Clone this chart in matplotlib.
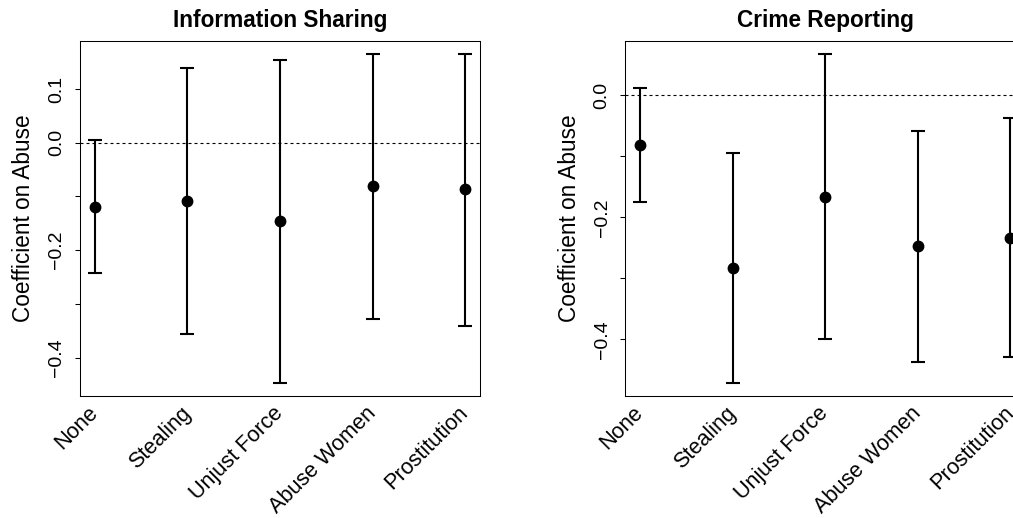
import numpy as np
import matplotlib
matplotlib.use('Agg')
import matplotlib.pyplot as plt

plt.rcParams['font.family'] = ['Liberation Sans', 'DejaVu Sans']

# Categories (x-axis labels)
categories = ['None', 'Stealing', 'Unjust Force', 'Abuse Women', 'Prostitution']

# Information Sharing: point estimates and 95% CI bounds
info_est = [-0.119, -0.108, -0.145, -0.081, -0.087]
info_low = [-0.242, -0.356, -0.447, -0.328, -0.341]
info_high = [0.006, 0.139, 0.155, 0.165, 0.165]

# Crime Reporting: point estimates and 95% CI bounds
crime_est = [-0.082, -0.283, -0.167, -0.247, -0.234]
crime_low = [-0.175, -0.471, -0.399, -0.437, -0.429]
crime_high = [0.012, -0.095, 0.067, -0.058, -0.037]

# y ticks and which ones carry labels
info_ticks = [-0.4, -0.3, -0.2, -0.1, 0.0, 0.1]
info_labels = ['\u22120.4', '', '\u22120.2', '', '0.0', '0.1']
crime_ticks = [-0.4, -0.3, -0.2, -0.1, 0.0]
crime_labels = ['\u22120.4', '', '\u22120.2', '', '0.0']

fig = plt.figure(figsize=(10.13, 5.18), dpi=100)
ax1 = fig.add_axes([80 / 1013, 122 / 518, 400 / 1013, 355 / 518])
ax2 = fig.add_axes([625.3 / 1013, 122 / 518, 400 / 1013, 355 / 518])


def draw_panel(ax, title, est, low, high, ticks, labels):
    x = np.arange(1, len(categories) + 1)
    est = np.array(est)
    yerr = [est - np.array(low), np.array(high) - est]
    # dotted reference line at zero
    ax.axhline(0, color='black', lw=0.8, ls=(0, (2.7, 2.7)), zorder=1)
    ax.errorbar(x, est, yerr=yerr, fmt='o', color='black', ms=7.5,
                elinewidth=1.5, capsize=4.8, capthick=1.5, zorder=3)
    span = max(high) - min(low)
    ax.set_xlim(0.84, len(categories) + 0.16)
    ax.set_ylim(min(low) - 0.04 * span, max(high) + 0.04 * span)
    ax.set_xticks([])
    ax.set_yticks(ticks)
    ax.set_yticklabels(labels, rotation=90, va='center', fontsize=14)
    ax.tick_params(axis='y', direction='out', length=3.6, width=0.75, pad=7)
    for s in ax.spines.values():
        s.set_linewidth(0.75)
    ax.set_title(title, fontsize=16.3, fontweight='bold', pad=10)
    ax.set_ylabel('Coefficient on Abuse', fontsize=16.3, va='center')
    ax.yaxis.set_label_coords(-0.14, 0.5)
    # rotated category labels below the axis
    trans = matplotlib.transforms.blended_transform_factory(ax.transData, ax.transAxes)
    off = matplotlib.transforms.ScaledTranslation(0, -14 / 100, fig.dpi_scale_trans)
    for xi, lab in zip(x, categories):
        ax.text(xi, 0, lab, transform=trans + off, rotation=45,
                rotation_mode='anchor', ha='right', va='center', fontsize=15.6)


draw_panel(ax1, 'Information Sharing', info_est, info_low, info_high, info_ticks, info_labels)
draw_panel(ax2, 'Crime Reporting', crime_est, crime_low, crime_high, crime_ticks, crime_labels)

fig.savefig('out.png', dpi=100)
